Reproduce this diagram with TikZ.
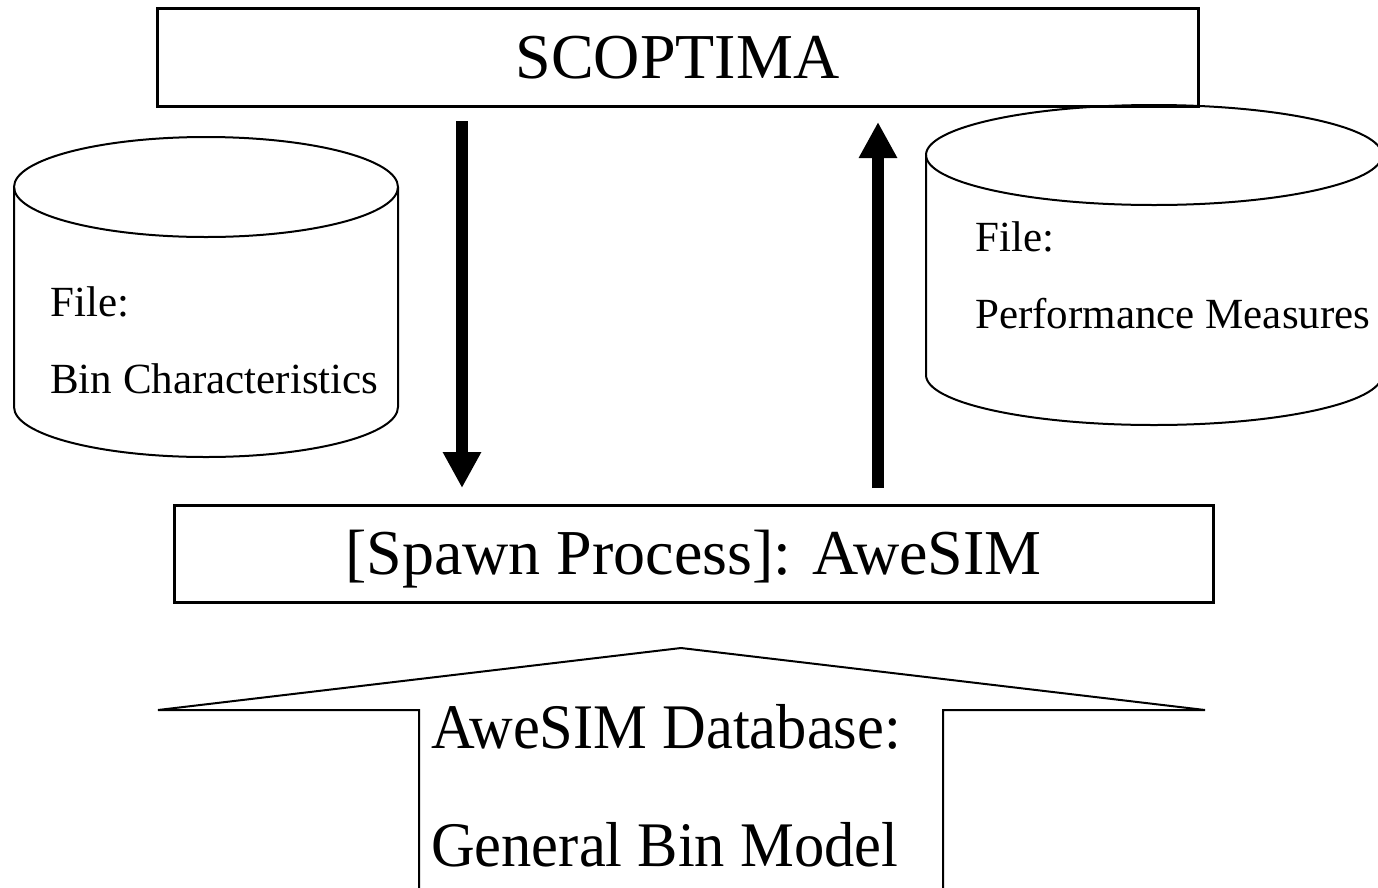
\documentclass[tikz,border=0pt]{standalone}
\usepackage{fontspec}
\setmainfont{Liberation Serif}
\usetikzlibrary{arrows.meta}
\newcommand{\tallish}[1]{\scalebox{1}[1.05]{#1}}
\begin{document}
\begin{tikzpicture}[x=1pt,y=-1pt,
  boxnode/.style={draw, line width=3pt, inner sep=0pt, font=\fontsize{64}{70}\selectfont, text height=42pt, text depth=0pt},
  cyl/.style={draw, line width=2pt},
  ftext/.style={anchor=base west, inner sep=0pt, font=\fontsize{43}{48}\selectfont},
  dbtext/.style={anchor=base west, inner sep=0pt, font=\fontsize{60.5}{66}\selectfont},
  flow/.style={line width=12pt, -{Triangle[width=36pt,length=36pt]}}
]
\clip (0,0) rectangle (1378,887);
% boxes
\node[boxnode, minimum width=1041pt, minimum height=98pt] (scop) at (677.5,57) {SCOPTIMA};
\node[boxnode, minimum width=1039pt, minimum height=97pt] (spawn) at (693.5,553.5) {[Spawn Process]: AweSIM};
% arrows
\coordinate (dx) at (462,0);
\coordinate (ux) at (878,0);
\draw[flow, shorten <=13.5pt, shorten >=15.5pt] (scop.south -| dx) -- (spawn.north -| dx);
\draw[flow, shorten <=15.5pt, shorten >=14.5pt] (spawn.north -| ux) -- (scop.south -| ux);
% left cylinder
\draw[cyl] (206,187) ellipse [x radius=192pt, y radius=50pt];
\draw[cyl] (14,187) -- (14,407) arc[start angle=180, end angle=360, x radius=192pt, y radius=50pt] -- (398,187);
% right cylinder
\draw[cyl] (1154,155) ellipse [x radius=228pt, y radius=50pt];
\draw[cyl] (926,155) -- (926,375) arc[start angle=180, end angle=360, x radius=228pt, y radius=50pt] -- (1382,155);
% database arrow shape
\draw[line width=2pt, line join=miter] (419,895) -- (419,710) -- (158,710) -- (681,648) -- (1205,710) -- (943,710) -- (943,895);
% texts
\node[ftext] (f1) at (50,316) {File:};
\node[ftext] (bc) at (50,393) {Bin Characteristics};
\node[ftext] (f2) at (975,251) {File:};
\node[ftext] (pm) at (975,328) {Performance Measures};
\node[dbtext] (db) at (431,748) {\tallish{AweSIM Database:}};
\node[dbtext] (gbm) at (431,866) {\tallish{General Bin Model}};
\end{tikzpicture}
\end{document}
